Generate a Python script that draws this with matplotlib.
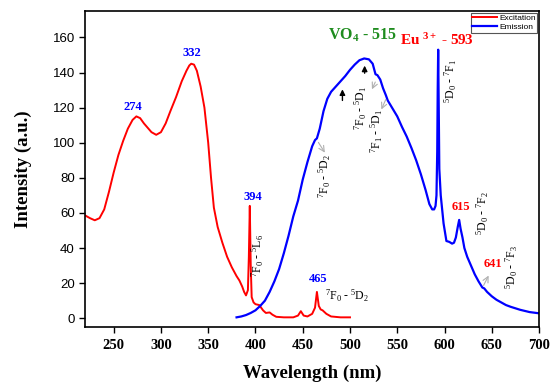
import matplotlib.pyplot as plt

plt.rcParams['mathtext.fontset'] = 'custom'
plt.rcParams['mathtext.rm'] = 'Liberation Serif'
plt.rcParams['mathtext.it'] = 'Liberation Serif:italic'
plt.rcParams['mathtext.bf'] = 'Liberation Serif:bold'

# excitation spectrum (red)
ex_wl = [220, 225, 230, 235, 240, 245, 250, 255, 260, 265, 270, 274, 278, 282, 286,
         290, 295, 300, 305, 310, 316, 322, 327, 330, 332, 335, 338, 342, 346, 350,
         353, 356, 360, 365, 370, 375, 380, 383, 386, 388, 390, 392, 393, 394, 395,
         396, 398, 400, 404, 408, 411, 415, 418, 422, 430, 440, 445, 448, 451, 455,
         460, 463, 465, 467, 469, 471, 475, 480, 490, 500]
ex_int = [58.5, 57, 55.8, 57, 62, 72, 83, 93, 101, 108, 113, 115, 114, 111, 108.5,
          106, 104.5, 106, 111, 118, 126, 135, 141, 144, 145, 144.5, 141, 132, 120, 100,
          80, 63, 52, 43, 35, 29, 24, 21.5, 18, 15, 13, 16, 35, 64, 30,
          12, 9, 8, 7.5, 4.5, 3, 3.3, 2, 0.8, 0.5, 0.5, 1.5, 4, 1.5, 1,
          2.5, 6, 15, 7, 5, 4.5, 2.5, 1, 0.5, 0.5]

# emission spectrum (blue)
em_wl = [380, 385, 390, 395, 400, 405, 410, 415, 420, 425, 430, 435, 440, 445, 450,
         455, 460, 463, 465, 468, 472, 476, 480, 485, 490, 495, 500, 505, 510, 515,
         520, 524, 526, 527, 529, 532, 535, 538, 540, 545, 550, 555, 560, 565, 570,
         575, 580, 584, 587, 589, 590.5, 591.5, 592.3, 592.8, 593.3, 593.8, 594.5, 596, 599, 602,
         605, 608, 610, 612, 614, 615.5, 617, 619, 621, 624, 628, 632, 636, 640, 642,
         645, 650, 655, 660, 665, 670, 680, 690, 700]
em_int = [0.5, 1, 1.8, 3, 4.5, 7, 10, 15, 21, 28, 37, 47, 58, 67, 79,
          89, 98, 101.5, 102.5, 108, 118, 125, 129, 132, 135, 138, 141.5, 144.5, 147, 148,
          147.5, 145, 141, 139, 138.5, 136, 131, 127, 124, 119.5, 115, 109, 103.5, 97, 90,
          82, 73, 65, 62, 62, 64, 70, 95, 130, 153, 125, 85, 70, 54, 44,
          43.5, 42.5, 43, 46, 52, 56, 51, 46, 40, 35, 30, 25, 21, 17.5, 17,
          15, 12.5, 10.5, 9, 7.5, 6.5, 4.8, 3.5, 2.8]

fig = plt.figure(figsize=(5.54, 3.82), dpi=100)
ax = fig.add_axes([0.154, 0.144, 0.819, 0.827])

ax.plot(ex_wl, ex_int, color='#ff0000', lw=1.4, label='Excitation')
ax.plot(em_wl, em_int, color='#0000ff', lw=1.6, label='Emission')

ax.set_xlim(220, 700)
ax.set_ylim(-5, 175)
ax.set_xticks(range(250, 701, 50))
ax.set_yticks(range(0, 161, 20))
for t in ax.get_xticklabels():
    t.set_fontfamily('Liberation Serif')
    t.set_fontweight('bold')
    t.set_fontsize(10.5)
for t in ax.get_yticklabels():
    t.set_fontfamily('Liberation Sans')
    t.set_fontsize(9.5)
ax.tick_params(direction='out', length=4, width=1)
ax.tick_params(axis='x', pad=5)
for s in ax.spines.values():
    s.set_linewidth(1.2)

ax.set_xlabel('Wavelength (nm)', family='Liberation Serif', weight='bold', fontsize=13.5,
              labelpad=9)
ax.set_ylabel('Intensity (a.u.)', family='Liberation Serif', weight='bold', fontsize=13.5,
              labelpad=15)

leg = ax.legend(loc='upper right', handlelength=3.0, borderpad=0.2,
                labelspacing=0.1, handletextpad=0.2, fancybox=False, framealpha=1,
                edgecolor='#555555', borderaxespad=0.2,
                prop={'family': 'Liberation Sans', 'size': 6})
leg.get_frame().set_linewidth(0.8)

serif_b = dict(family='Liberation Serif', weight='bold')

# peak labels
for x, y, s in [(270, 117, '274'), (333, 147.5, '332'), (397, 65.5, '394'), (466.5, 19, '465')]:
    ax.text(x, y, s, color='#0000ff', fontsize=9, ha='center', va='bottom', **serif_b)
for x, y, s in [(617.5, 60, '615'), (651.5, 27.5, '641')]:
    ax.text(x, y, s, color='#ff0000', fontsize=9, ha='center', va='bottom', **serif_b)

ax.text(513, 156, r'VO$_{\mathbf{4}}$ - 515', color='#1e8c1e', fontsize=11.5,
        ha='center', va='bottom', **serif_b)
ax.text(592, 154, r'Eu $^{\mathbf{3+}}$ - 593', color='#ff0000', fontsize=11,
        ha='center', va='bottom', **serif_b)

# transition labels
lab = dict(family='Liberation Serif', fontsize=8.5, color='black')
ax.text(403, 36, r'${}^{7}$F$_{0}$ - ${}^{5}$L$_{6}$', rotation=90, ha='center', va='center', **lab)
ax.text(497, 13, r'${}^{7}$F$_{0}$ - ${}^{5}$D$_{2}$', ha='center', va='center', **lab)
ax.text(473, 81, r'${}^{7}$F$_{0}$ - ${}^{5}$D$_{2}$', rotation=90, ha='center', va='center', **lab)
ax.text(511, 120, r'${}^{7}$F$_{0}$ - ${}^{5}$D$_{1}$', rotation=90, ha='center', va='center', **lab)
ax.text(528, 107, r'${}^{7}$F$_{1}$ - ${}^{5}$D$_{1}$', rotation=90, ha='center', va='center', **lab)
ax.text(607, 135, r'${}^{5}$D$_{0}$ - ${}^{7}$F$_{1}$', rotation=90, ha='center', va='center', **lab)
ax.text(640, 60, r'${}^{5}$D$_{0}$ - ${}^{7}$F$_{2}$', rotation=90, ha='center', va='center', **lab)
ax.text(671, 29, r'${}^{5}$D$_{0}$ - ${}^{7}$F$_{3}$', rotation=90, ha='center', va='center', **lab)

# arrows
gray = dict(arrowstyle='->', color='#b0b0b0', lw=0.8)
ax.annotate('', xy=(475, 93), xytext=(465, 101.5), arrowprops=gray)
ax.annotate('', xy=(522, 129), xytext=(528, 136), arrowprops=gray)
ax.annotate('', xy=(532, 117.5), xytext=(539, 126), arrowprops=gray)
ax.annotate('', xy=(648, 25.7), xytext=(640, 17.3), arrowprops=gray)
black = dict(arrowstyle='-|>', color='black', lw=1.0, mutation_scale=8)
ax.annotate('', xy=(515.5, 145.5), xytext=(515.5, 138), arrowprops=black)
ax.annotate('', xy=(492, 132), xytext=(492, 122.5), arrowprops=black)

fig.savefig('out.png', dpi=100)
